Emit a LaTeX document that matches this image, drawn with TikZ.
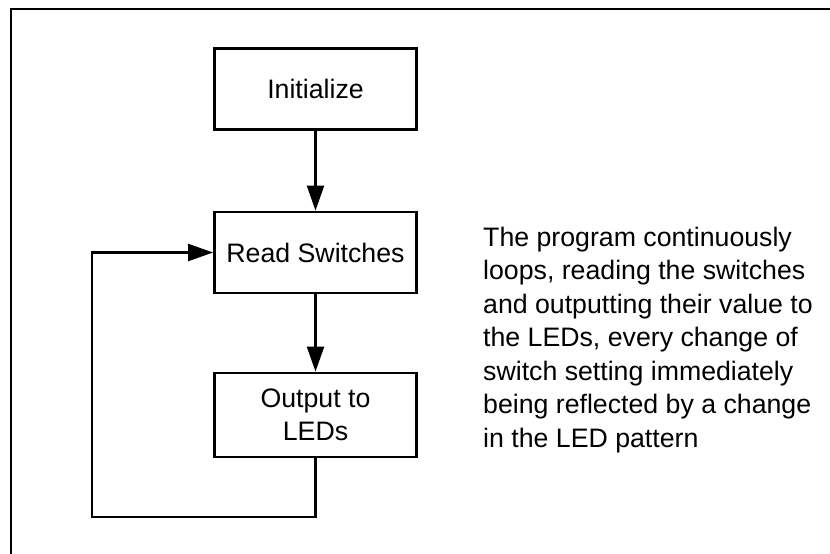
\documentclass[tikz,border=0pt]{standalone}
\usepackage{fontspec}
\setmainfont{Liberation Sans}
\usetikzlibrary{arrows.meta}
\begin{document}
\begin{tikzpicture}[x=1pt,y=-1pt,
  txt/.style={font=\fontsize{26.7}{33.5}\selectfont},
  stepbox/.style={draw, line width=2.8pt, minimum width=202pt, minimum height=81pt,
    inner sep=0pt, align=center, txt},
  flow/.style={line width=2.3pt, -{Triangle[length=25pt,width=17pt]}},
  loopline/.style={line width=2.3pt}]
  \useasboundingbox (0,0) rectangle (830,554);
  % open page frame running off the right and bottom edges
  \begin{scope}
    \clip (0,0) rectangle (830,554);
    \draw[line width=1.8pt] (11,570) -- (11,9) -- (850,9);
  \end{scope}
  % flowchart blocks
  \node[stepbox] (init) at (315.5,89) {Initialize};
  \node[stepbox] (read) at (315.5,252.5) {Read Switches};
  \node[stepbox, minimum height=84pt] (out) at (315.5,415) {Output to\\LEDs};
  % connectors
  \draw[flow] (init.south) -- (read.north);
  \draw[flow] (read.south) -- (out.north);
  \coordinate (lb) at (92,517);
  \draw[flow] (out.south) |- (lb) |- (read.west);
  % description
  \node[txt, anchor=north west, inner sep=0pt, align=left] (desc) at (483,226.5)
    {The program continuously\\
     loops, reading the switches\\
     and outputting their value to\\
     the LEDs, every change of\\
     switch setting immediately\\
     being reflected by a change\\
     in the LED pattern};
\end{tikzpicture}
\end{document}
